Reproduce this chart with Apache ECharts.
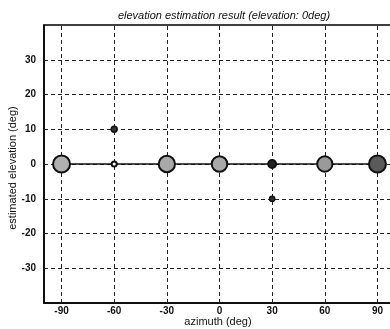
<!DOCTYPE html>
<html>
<head>
<meta charset="utf-8">
<script src="https://cdn.jsdelivr.net/npm/echarts@6/dist/echarts.min.js"></script>
<style>
  html, body { margin: 0; padding: 0; background: #fff; }
  #chart { width: 390px; height: 329px; }
</style>
</head>
<body>
<div id="chart"></div>
<script>
// azimuth of each estimate (deg)
var azimuth = [-90, -60, -30, 0, 30, 60, 90];
// estimated elevation at each azimuth (deg)
var elevation = [0, 0, 0, 0, 0, 0, 0];
// relative peak strength -> marker size
var peakPower = [1.0, 0.15, 0.95, 0.9, 0.35, 0.88, 1.0];
// secondary (off-axis) estimates
var extraAz = [-60, 30];
var extraEl = [10, -10];
var extraPower = [0.35, 0.3];
// tick labels
var xTicks = [-90, -60, -30, 0, 30, 60, 90];
var yTicks = [-30, -20, -10, 0, 10, 20, 30];

var chart = echarts.init(document.getElementById('chart'));

function markerSize(p) { return 3 + p * 14; }

// fill gets darker where MATLAB rendered a denser dither
var fills = ['#b0b0b0', '#ffffff', '#a8a8a8', '#a8a8a8', '#222222', '#9a9a9a', '#5a5a5a'];

var mainData = azimuth.map(function (a, i) {
  return {
    value: [a, elevation[i], peakPower[i]],
    itemStyle: { color: fills[i] }
  };
});
var extraData = extraAz.map(function (a, i) {
  return [a, extraEl[i], extraPower[i]];
});

var gridLines = xTicks.map(function (v) { return { xAxis: v }; })
  .concat(yTicks.map(function (v) { return { yAxis: v }; }));

var option = {
  animation: false,
  title: [{
    text: 'elevation estimation result (elevation: 0deg)',
    left: 219,
    textAlign: 'center',
    top: 5,
    textStyle: { fontFamily: 'Liberation Sans', fontStyle: 'italic', fontWeight: 'normal', fontSize: 11, color: '#111' }
  }, {
    text: 'azimuth (deg)',
    left: 218,
    textAlign: 'center',
    top: 316,
    padding: 0,
    textStyle: { fontFamily: 'Liberation Sans', fontWeight: 'normal', fontSize: 11, color: '#111' }
  }],
  graphic: [{
    type: 'text',
    x: 13,
    y: 168,
    rotation: Math.PI / 2,
    style: {
      text: 'estimated elevation (deg)',
      fill: '#111',
      font: '11px "Liberation Sans"',
      align: 'center',
      verticalAlign: 'middle'
    }
  }],
  grid: {
    left: 44, right: -5, top: 25, bottom: 26,
    outerBoundsMode: 'none',
    containLabel: false,
    show: true, borderColor: '#000', borderWidth: 1.5, backgroundColor: '#fff'
  },
  xAxis: {
    type: 'value',
    min: -100, max: 100, interval: 10,
    axisLine: { show: true, onZero: false, lineStyle: { color: '#000', width: 1.5 } },
    axisTick: { show: true, inside: true, length: 4, customValues: xTicks, lineStyle: { color: '#000' } },
    axisLabel: {
      customValues: xTicks,
      margin: 3,
      fontFamily: 'Liberation Sans', fontWeight: 'bold', fontSize: 10, color: '#111'
    },
    splitLine: { show: false }
  },
  yAxis: {
    type: 'value',
    min: -40, max: 40, interval: 10,
    axisLine: { show: true, onZero: false, lineStyle: { color: '#000', width: 1.5 } },
    axisTick: { show: true, inside: true, length: 4, customValues: yTicks, lineStyle: { color: '#000' } },
    axisLabel: {
      customValues: yTicks,
      margin: 8,
      fontFamily: 'Liberation Sans', fontWeight: 'bold', fontSize: 10, color: '#111'
    },
    splitLine: { show: false }
  },
  series: [
    {
      type: 'line',
      silent: true,
      z: 1,
      data: [],
      markLine: {
        silent: true,
        symbol: 'none',
        z: 1,
        label: { show: false },
        lineStyle: { color: '#222', type: [4, 3], width: 1 },
        data: gridLines
      }
    },
    {
      type: 'line',
      data: mainData,
      symbol: 'circle',
      symbolSize: function (v) { return markerSize(v[2]); },
      lineStyle: { color: '#111', width: 1.5 },
      itemStyle: { borderColor: '#111', borderWidth: 2, opacity: 1 },
      z: 5
    },
    {
      type: 'scatter',
      data: extraData,
      symbol: 'circle',
      symbolSize: function (v) { return markerSize(v[2]) - 2; },
      itemStyle: { color: '#333', borderColor: '#111', borderWidth: 1.5, opacity: 1 },
      z: 5
    }
  ]
};

chart.setOption(option);
</script>
</body>
</html>
